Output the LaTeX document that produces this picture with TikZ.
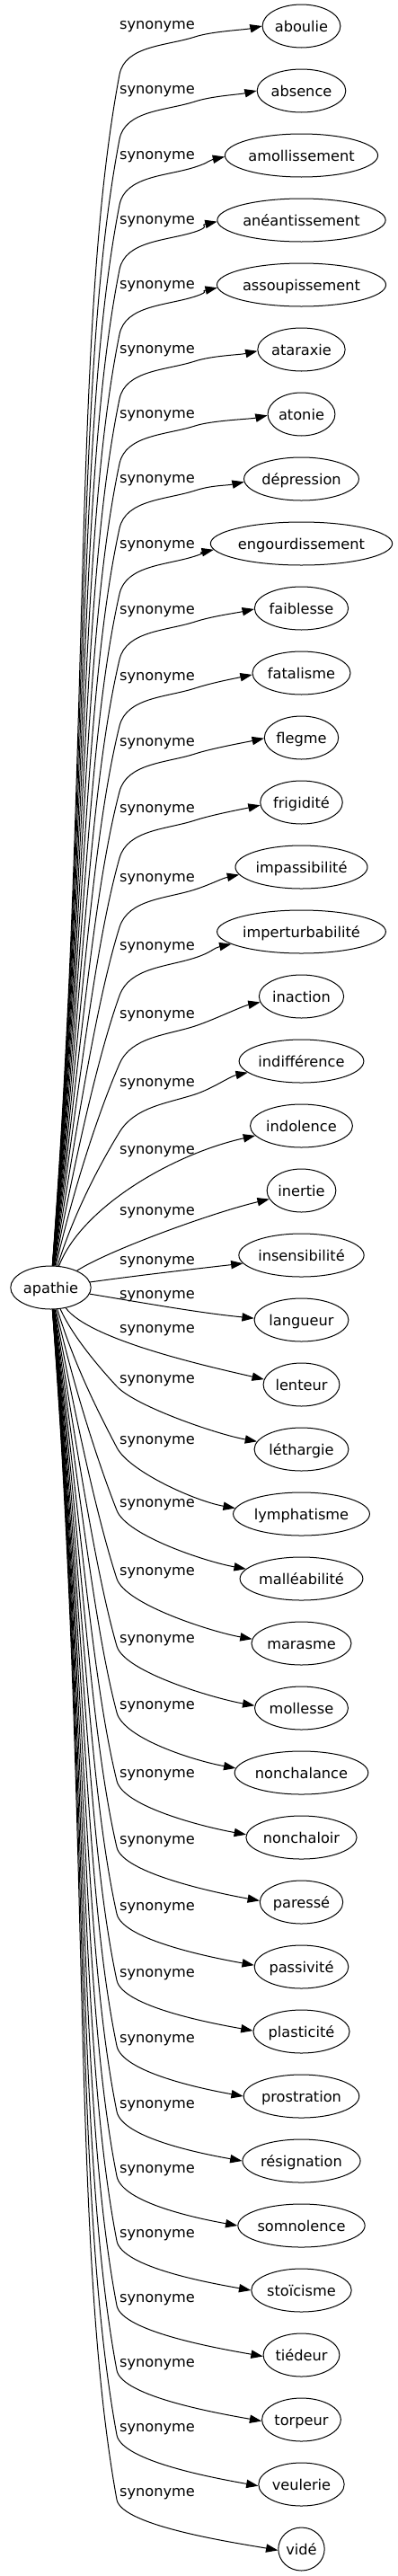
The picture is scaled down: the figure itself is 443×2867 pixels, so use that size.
\documentclass[tikz,border=0pt]{standalone}
\usepackage{fontspec}
\setmainfont{DejaVu Sans}
\usetikzlibrary{shapes.geometric,arrows.meta,calc}
\newcommand\synfont{\fontsize{16.2pt}{19.4pt}\selectfont}
\newlength\wlen
\tikzset{
  synword/.style={ellipse, draw, line width=1pt, inner sep=1pt, font=\synfont,
    text height=12.3pt, text depth=0pt, minimum height=48pt, minimum width=#1},
  synlab/.style={inner sep=0pt, anchor=base, font=\synfont},
  synedge/.style={line width=1pt, -{Triangle[length=13.3pt,width=9.3pt]}}
}
\begin{document}
\begin{tikzpicture}[x=1pt,y=-1pt]
\useasboundingbox (0,0) rectangle (443,2867);
\settowidth{\wlen}{\synfont apathie}
\pgfmathsetmacro{\mw}{1.224*\wlen+32.9}
\node[synword=\mw pt] (ap) at (56.5,1433) {apathie};
\foreach \i/\wrd/\dof/\anc in {
0/aboulie/-1/180, 1/absence/-1/180, 2/amollissement/0/181, 3/anéantissement/0/181,
4/assoupissement/0/182, 5/ataraxie/0/182, 6/atonie/0/182, 7/dépression/0/183,
8/engourdissement/1/184, 9/faiblesse/2/181, 10/fatalisme/4/182, 11/flegme/5/181,
12/frigidité/7/184, 13/impassibilité/12/187, 14/imperturbabilité/16/190, 15/inaction/20/188,
16/indifférence/24/192, 17/indolence/27/192, 18/inertie/23/195, 19/insensibilité/6/188,
20/langueur/-28/178, 21/lenteur/-62/172, 22/léthargie/-78/170, 23/lymphatisme/-82/175,
24/malléabilité/-84/170, 25/marasme/-80/175, 26/mollesse/-77/177, 27/nonchalance/-75/176,
28/nonchaloir/-71/177, 29/paressé/-69/178, 30/passivité/-67/178, 31/plasticité/-65/179,
32/prostration/-64/180, 33/résignation/-63/180, 34/somnolence/-63/180, 35/stoïcisme/-63/180,
36/tiédeur/-63/182, 37/torpeur/-63/182, 38/veulerie/-63/182, 39/vidé/-63/183}{
  \settowidth{\wlen}{\synfont \wrd}
  \pgfmathsetmacro{\mw}{1.224*\wlen+32.9}
  \pgfmathsetmacro{\ny}{29+72*\i}
  \pgfmathsetmacro{\ly}{\ny+\dof}
  \node[synword=\mw pt] (n\i) at (335.5,\ny) {\wrd};
  \node[synlab] (l\i) at (175,\ly+4.4) {synonyme};
  \ifnum\i<17
    \pgfmathsetmacro{\ky}{\ly+55}
    \pgfmathsetmacro{\hh}{1409-\ky}
    \pgfmathsetmacro{\tht}{8+3500/\hh}
    \pgfmathsetmacro{\phh}{2+2500/\hh}
    \pgfmathsetmacro{\cax}{62+0.45*\hh*sin(\phh)}
    \pgfmathsetmacro{\cay}{1409-0.45*\hh*cos(\phh)}
    \pgfmathsetmacro{\cbx}{133-0.22*\hh*sin(\tht)}
    \pgfmathsetmacro{\cby}{\ky+0.22*\hh*cos(\tht)}
    \pgfmathsetmacro{\ccx}{133+33*sin(\tht)}
    \pgfmathsetmacro{\ccy}{\ky-33*cos(\tht)}
    \pgfmathsetmacro{\by}{\ly+13}
    \draw[synedge] (ap) .. controls (\cax,\cay) and (\cbx,\cby) .. (133,\ky)
      .. controls (\ccx,\ccy) and (185.6,\by+10.2) .. (217,\by)
      .. controls (236,\by-6.2) and ($(n\i.\anc)+(-19.6,4.2)$) .. (n\i.\anc);
  \fi
  \ifnum\i>21
    \pgfmathsetmacro{\ky}{\ly+8}
    \pgfmathsetmacro{\hh}{\ky-1457}
    \pgfmathsetmacro{\tht}{min(60,8+3000/\hh)}
    \pgfmathsetmacro{\phh}{min(60,2+2500/\hh)}
    \pgfmathsetmacro{\cax}{62+0.45*\hh*sin(\phh)}
    \pgfmathsetmacro{\cay}{1457+0.45*\hh*cos(\phh)}
    \pgfmathsetmacro{\cbx}{130-0.22*\hh*sin(\tht)}
    \pgfmathsetmacro{\cby}{\ky-0.22*\hh*cos(\tht)}
    \pgfmathsetmacro{\ccx}{130+30*sin(\tht)}
    \pgfmathsetmacro{\ccy}{\ky+30*cos(\tht)}
    \draw[synedge] (ap) .. controls (\cax,\cay) and (\cbx,\cby) .. (130,\ky)
      .. controls (\ccx,\ccy) and ($(n\i.\anc)+(-45,-8)$) .. (n\i.\anc);
  \fi
}
\draw[synedge] (ap) .. controls (90,1345) and (190,1285) .. (n17.192);
\draw[synedge] (ap) .. controls (120,1392) and (235,1350) .. (n18.195);
\draw[synedge] (ap) .. controls (150,1420) and (210,1413) .. (n19.188);
\draw[synedge] (ap) .. controls (160,1450) and (220,1461) .. (n20.178);
\draw[synedge] (ap) .. controls (100,1492) and (237,1522) .. (n21.172);
\end{tikzpicture}
\end{document}
